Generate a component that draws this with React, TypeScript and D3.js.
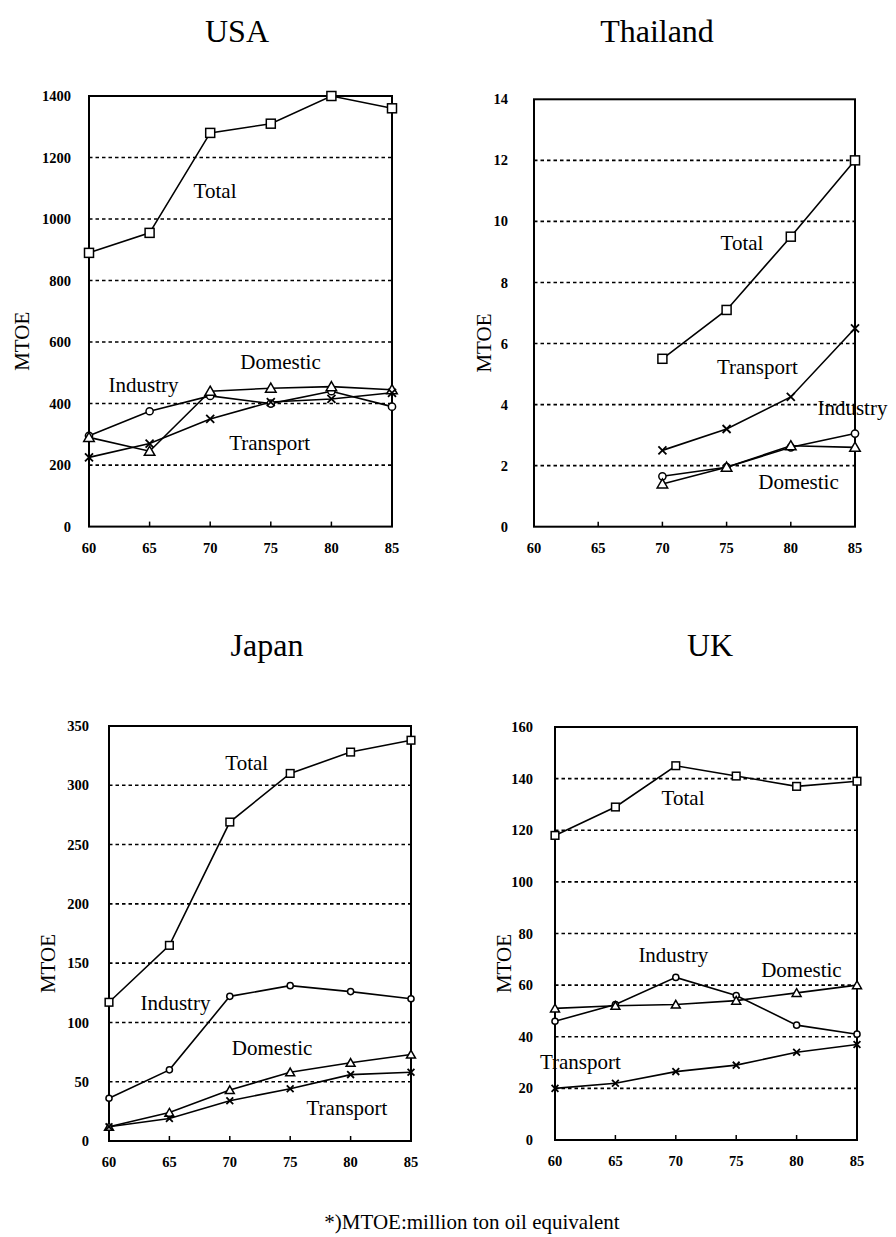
import React from 'react';
import * as d3 from 'd3';

// ---- Data ----
const years = [60, 65, 70, 75, 80, 85];
const yearsThailand = [70, 75, 80, 85];
const xTickYears = [60, 65, 70, 75, 80, 85];

const usaTotal = [890, 955, 1280, 1310, 1400, 1360];
const usaIndustry = [295, 375, 425, 400, 440, 390];
const usaDomestic = [290, 245, 440, 450, 455, 445];
const usaTransport = [225, 270, 350, 405, 415, 435];
const usaTicks = [0, 200, 400, 600, 800, 1000, 1200, 1400];

const thaiTotal = [5.5, 7.1, 9.5, 12.0];
const thaiTransport = [2.5, 3.2, 4.25, 6.5];
const thaiIndustry = [1.65, 1.95, 2.6, 3.05];
const thaiDomestic = [1.4, 1.95, 2.65, 2.6];
const thaiTicks = [0, 2, 4, 6, 8, 10, 12, 14];

const japanTotal = [117, 165, 269, 310, 328, 338];
const japanIndustry = [36, 60, 122, 131, 126, 120];
const japanDomestic = [12, 24, 43, 58, 66, 73];
const japanTransport = [12, 19, 34, 44, 56, 58];
const japanTicks = [0, 50, 100, 150, 200, 250, 300, 350];

const ukTotal = [118, 129, 145, 141, 137, 139];
const ukIndustry = [46, 52.5, 63, 56, 44.5, 41];
const ukDomestic = [51, 52, 52.5, 54, 57, 60];
const ukTransport = [20, 22, 26.5, 29, 34, 37];
const ukTicks = [0, 20, 40, 60, 80, 100, 120, 140, 160];

const footnote = '*)MTOE:million ton oil equivalent';

type Marker = 'square' | 'circle' | 'triangle' | 'cross';

interface Series { name: string; xs: number[]; values: number[]; marker: Marker; }
interface Label { text: string; year: number; value: number; }

interface PanelCfg {
  title: string; titleX: number; titleY: number;
  left: number; right: number; top: number; bottom: number;
  yMax: number; ticks: number[]; tickLabelX: number; mtoeX: number;
  series: Series[]; labels: Label[]; ms: number;
}

const panels: PanelCfg[] = [
  {
    title: 'USA', titleX: 237, titleY: 42,
    left: 89, right: 392, top: 96, bottom: 526.6,
    yMax: 1400, ticks: usaTicks, tickLabelX: 71, mtoeX: 22,
    ms: 1,
    series: [
      { name: 'Total', xs: years, values: usaTotal, marker: 'square' },
      { name: 'Industry', xs: years, values: usaIndustry, marker: 'circle' },
      { name: 'Domestic', xs: years, values: usaDomestic, marker: 'triangle' },
      { name: 'Transport', xs: years, values: usaTransport, marker: 'cross' },
    ],
    labels: [
      { text: 'Total', year: 70.4, value: 1092 },
      { text: 'Domestic', year: 75.8, value: 537 },
      { text: 'Industry', year: 64.5, value: 462 },
      { text: 'Transport', year: 74.9, value: 273 },
    ],
  },
  {
    title: 'Thailand', titleX: 657, titleY: 42,
    left: 534, right: 855, top: 99.3, bottom: 526.7,
    yMax: 14, ticks: thaiTicks, tickLabelX: 508, mtoeX: 484,
    ms: 1,
    series: [
      { name: 'Total', xs: yearsThailand, values: thaiTotal, marker: 'square' },
      { name: 'Transport', xs: yearsThailand, values: thaiTransport, marker: 'cross' },
      { name: 'Industry', xs: yearsThailand, values: thaiIndustry, marker: 'circle' },
      { name: 'Domestic', xs: yearsThailand, values: thaiDomestic, marker: 'triangle' },
    ],
    labels: [
      { text: 'Total', year: 76.2, value: 9.29 },
      { text: 'Transport', year: 77.4, value: 5.23 },
      { text: 'Industry', year: 84.8, value: 3.89 },
      { text: 'Domestic', year: 80.6, value: 1.46 },
    ],
  },
  {
    title: 'Japan', titleX: 267, titleY: 656,
    left: 109, right: 411, top: 726, bottom: 1141,
    yMax: 350, ticks: japanTicks, tickLabelX: 89, mtoeX: 48,
    ms: 0.85,
    series: [
      { name: 'Total', xs: years, values: japanTotal, marker: 'square' },
      { name: 'Industry', xs: years, values: japanIndustry, marker: 'circle' },
      { name: 'Domestic', xs: years, values: japanDomestic, marker: 'triangle' },
      { name: 'Transport', xs: years, values: japanTransport, marker: 'cross' },
    ],
    labels: [
      { text: 'Total', year: 71.4, value: 318.7 },
      { text: 'Industry', year: 65.5, value: 117 },
      { text: 'Domestic', year: 73.5, value: 79 },
      { text: 'Transport', year: 79.7, value: 28 },
    ],
  },
  {
    title: 'UK', titleX: 710, titleY: 656,
    left: 555, right: 857, top: 727, bottom: 1140,
    yMax: 160, ticks: ukTicks, tickLabelX: 533, mtoeX: 504,
    ms: 0.85,
    series: [
      { name: 'Total', xs: years, values: ukTotal, marker: 'square' },
      { name: 'Industry', xs: years, values: ukIndustry, marker: 'circle' },
      { name: 'Domestic', xs: years, values: ukDomestic, marker: 'triangle' },
      { name: 'Transport', xs: years, values: ukTransport, marker: 'cross' },
    ],
    labels: [
      { text: 'Total', year: 70.6, value: 132.6 },
      { text: 'Industry', year: 69.8, value: 71.7 },
      { text: 'Domestic', year: 80.4, value: 65.9 },
      { text: 'Transport', year: 62.1, value: 30.2 },
    ],
  },
];

const SERIF = '"Liberation Serif", "DejaVu Serif", serif';

function MarkerShape({ type, x, y, k }: { type: Marker; x: number; y: number; k: number }) {
  const common = { fill: 'white', stroke: 'black', strokeWidth: 1.5 };
  if (type === 'square') {
    const s = 9 * k;
    return <rect x={x - s / 2} y={y - s / 2} width={s} height={s} {...common} />;
  }
  if (type === 'circle') {
    return <circle cx={x} cy={y} r={3.6 * k} {...common} />;
  }
  if (type === 'triangle') {
    const p = d3.symbol().type(d3.symbolTriangle).size(48 * k * k)();
    return <path d={p || ''} transform={`translate(${x},${y + 1})`} {...common} />;
  }
  const h = 4 * k;
  return (
    <path d={`M${x - h},${y - h}L${x + h},${y + h}M${x - h},${y + h}L${x + h},${y - h}`}
      stroke="black" strokeWidth={1.8} fill="none" />
  );
}

function Panel({ cfg }: { cfg: PanelCfg }) {
  const xs = d3.scaleLinear().domain([60, 85]).range([cfg.left, cfg.right]);
  const ys = d3.scaleLinear().domain([0, cfg.yMax]).range([cfg.bottom, cfg.top]);
  const line = d3.line<[number, number]>().x(d => xs(d[0])).y(d => ys(d[1]));
  const grid = cfg.ticks.filter(t => t > 0 && t < cfg.yMax);
  const midY = (cfg.top + cfg.bottom) / 2 + 30;
  return (
    <g>
      <text x={cfg.titleX} y={cfg.titleY} fontFamily={SERIF} fontSize={32} textAnchor="middle">{cfg.title}</text>
      {grid.map(t => (
        <line key={t} x1={cfg.left} x2={cfg.right} y1={ys(t)} y2={ys(t)}
          stroke="black" strokeWidth={1.6} strokeDasharray="3.5,3" />
      ))}
      <rect x={cfg.left} y={cfg.top} width={cfg.right - cfg.left} height={cfg.bottom - cfg.top}
        fill="none" stroke="black" strokeWidth={2} />
      {xTickYears.slice(1, -1).map(yr => (
        <line key={yr} x1={xs(yr)} x2={xs(yr)} y1={cfg.bottom} y2={cfg.bottom - 5} stroke="black" strokeWidth={1.5} />
      ))}
      {cfg.ticks.map(t => (
        <text key={t} x={cfg.tickLabelX} y={ys(t)} dy="0.35em" fontFamily={SERIF} fontSize={14.5}
          fontWeight="bold" textAnchor="end">{t}</text>
      ))}
      {xTickYears.map(yr => (
        <text key={yr} x={xs(yr)} y={cfg.bottom + 26} fontFamily={SERIF} fontSize={14.5}
          fontWeight="bold" textAnchor="middle">{yr}</text>
      ))}
      <text transform={`translate(${cfg.mtoeX},${midY}) rotate(-90)`} dy="0.35em" fontFamily={SERIF}
        fontSize={21} textAnchor="middle">MTOE</text>
      {cfg.series.map(s => (
        <path key={s.name} d={line(s.xs.map((x, i) => [x, s.values[i]] as [number, number])) || ''}
          fill="none" stroke="black" strokeWidth={1.6} />
      ))}
      {cfg.series.map(s => s.xs.map((x, i) => (
        <MarkerShape key={s.name + x} type={s.marker} x={xs(x)} y={ys(s.values[i])} k={cfg.ms} />
      )))}
      {cfg.labels.map(l => (
        <text key={l.text} x={xs(l.year)} y={ys(l.value)} dy="0.35em" fontFamily={SERIF} fontSize={21}
          textAnchor="middle">{l.text}</text>
      ))}
    </g>
  );
}

export default function App() {
  return (
    <svg width={896} height={1237} style={{ position: 'absolute', left: 0, top: 0, background: 'white' }}>
      <rect x={0} y={0} width={896} height={1237} fill="white" />
      {panels.map(p => <Panel key={p.title} cfg={p} />)}
      <text x={472} y={1229} fontFamily={SERIF} fontSize={21} textAnchor="middle">{footnote}</text>
    </svg>
  );
}
